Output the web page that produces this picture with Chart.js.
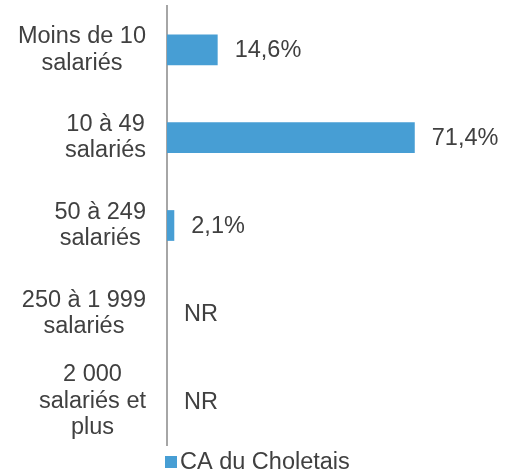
<!DOCTYPE html>
<html>
<head>
<meta charset="utf-8">
<script src="https://cdn.jsdelivr.net/npm/chart.js@4/dist/chart.umd.min.js"></script>
<style>
  html, body { margin: 0; padding: 0; background: #fff; }
  #wrap { width: 514px; height: 471px; }
</style>
</head>
<body>
<div id="wrap"><canvas id="chart"></canvas></div>
<script>
// données
const categories = [
    ['Moins de 10', 'salariés'],
    ['10 à 49', 'salariés'],
    ['50 à 249', 'salariés'],
    ['250 à 1 999', 'salariés'],
    ['2 000', 'salariés et', 'plus']
];
const valeurs = [14.6, 71.4, 2.1, null, null];
const etiquettes = ['14,6%', '71,4%', '2,1%', 'NR', 'NR'];
const serie = 'CA du Choletais';

const couleurBarre = '#479ED4';
const couleurTexte = '#404040';
const police = '"Liberation Sans", Arial, sans-serif';

// libellés de catégories : bloc aligné à droite, lignes centrées
const libellesY = {
    id: 'libellesY',
    afterDraw(chart) {
        const ctx = chart.ctx;
        const y = chart.scales.y;
        const droite = chart.chartArea.left - 21;
        const interligne = 26.5;
        ctx.save();
        ctx.font = '23.5px ' + police;
        ctx.fillStyle = couleurTexte;
        ctx.textAlign = 'center';
        ctx.textBaseline = 'middle';
        categories.forEach((lignes, i) => {
            const larg = Math.max(...lignes.map(l => ctx.measureText(l).width));
            const cx = droite - larg / 2;
            const cy = y.getPixelForValue(i);
            const debut = cy - (lignes.length - 1) * interligne / 2;
            lignes.forEach((l, k) => ctx.fillText(l, cx, debut + k * interligne));
        });
        ctx.restore();
    }
};

// étiquettes de valeurs au bout des barres
const etiquettesValeurs = {
    id: 'etiquettesValeurs',
    afterDatasetsDraw(chart) {
        const ctx = chart.ctx;
        const x = chart.scales.x;
        const y = chart.scales.y;
        ctx.save();
        ctx.font = '23.5px ' + police;
        ctx.fillStyle = couleurTexte;
        ctx.textAlign = 'left';
        ctx.textBaseline = 'middle';
        etiquettes.forEach((t, i) => {
            const px = x.getPixelForValue(valeurs[i] || 0) + 17;
            ctx.fillText(t, px, y.getPixelForValue(i) + 1);
        });
        ctx.restore();
    }
};

// légende sous le graphique
const legende = {
    id: 'legende',
    afterDraw(chart) {
        const ctx = chart.ctx;
        const x0 = chart.chartArea.left - 2;
        const y0 = chart.chartArea.bottom + 17;
        ctx.save();
        ctx.fillStyle = couleurBarre;
        ctx.fillRect(x0, y0 - 6, 12, 12);
        ctx.font = '23.5px ' + police;
        ctx.fillStyle = couleurTexte;
        ctx.textAlign = 'left';
        ctx.textBaseline = 'middle';
        ctx.fillText(chart.data.datasets[0].label, x0 + 15, y0 + 1);
        ctx.restore();
    }
};

new Chart(document.getElementById('chart').getContext('2d'), {
    type: 'bar',
    data: {
        labels: categories,
        datasets: [{
            label: serie,
            data: valeurs,
            backgroundColor: couleurBarre,
            borderWidth: 0,
            barPercentage: 0.35,
            categoryPercentage: 1
        }]
    },
    options: {
        indexAxis: 'y',
        responsive: true,
        maintainAspectRatio: false,
        animation: false,
        layout: { padding: { top: 6, right: 0, bottom: 26, left: 0 } },
        scales: {
            x: {
                display: false,
                min: 0,
                max: 100
            },
            y: {
                grid: { display: false, drawTicks: false },
                border: { display: true, color: '#a6a6a6', width: 2 },
                ticks: { display: false },
                afterFit(scale) { scale.width = 167; }
            }
        },
        plugins: {
            legend: { display: false },
            tooltip: { enabled: false }
        }
    },
    plugins: [libellesY, etiquettesValeurs, legende]
});
</script>
</body>
</html>
